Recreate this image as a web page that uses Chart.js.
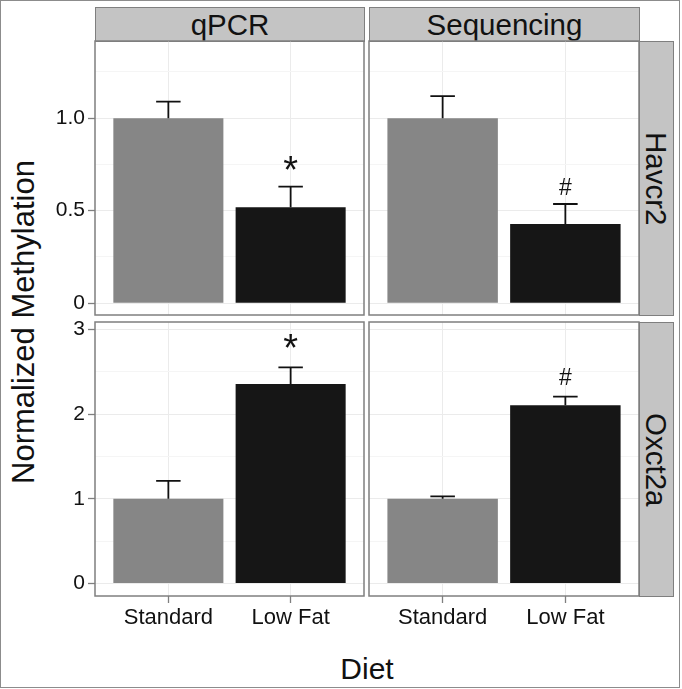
<!DOCTYPE html>
<html>
<head>
<meta charset="utf-8">
<script src="https://cdn.jsdelivr.net/npm/chart.js@4/dist/chart.umd.min.js"></script>
<style>
html, body { margin: 0; padding: 0; background: #ffffff; }
#wrap { position: relative; width: 682px; height: 689px; overflow: hidden; font-family: "Liberation Sans", Arial, sans-serif; color: #111; background: #fff; }
.frame { position: absolute; left: 0; top: 0; width: 680px; height: 688px; box-sizing: border-box; border: 1px solid #8c8c8c; }
canvas { position: absolute; }
.strip { position: absolute; box-sizing: border-box; background: #c4c4c4; border: 1px solid #7f7f7f; display: flex; align-items: center; justify-content: center; font-size: 29.5px; white-space: nowrap; line-height: 1; }
.strip span { display: block; white-space: nowrap; }
.vtext span { transform: rotate(90deg); }
.title { position: absolute; font-size: 30px; white-space: nowrap; line-height: 1; }
</style>
</head>
<body>
<div id="wrap">
  <div class="frame"></div>
</div>
<script>
// ---------------- data ----------------
const categories = ['Standard', 'Low Fat'];
const methods = ['qPCR', 'Sequencing'];
const genes = ['Havcr2', 'Oxct2a'];

const qpcrHavcr2 = [1.00, 0.518];
const qpcrHavcr2Err = [0.089, 0.112];
const seqHavcr2 = [1.00, 0.428];
const seqHavcr2Err = [0.119, 0.108];
const qpcrOxct2a = [1.00, 2.356];
const qpcrOxct2aErr = [0.213, 0.195];
const seqOxct2a = [1.00, 2.104];
const seqOxct2aErr = [0.028, 0.102];

const qpcrMarks = ['', '*'];
const seqMarks = ['', '#'];
const qpcrHavcr2MarkY = [null, 0.755];
const seqHavcr2MarkY = [null, 0.632];
const qpcrOxct2aMarkY = [null, 2.856];
const seqOxct2aMarkY = [null, 2.448];

const havcr2Ticks = [0, 0.5, 1.0];
const havcr2TickLabels = ['0', '0.5', '1.0'];
const havcr2Range = [-0.064, 1.417];
const oxct2aTicks = [0, 1, 2, 3];
const oxct2aTickLabels = ['0', '1', '2', '3'];
const oxct2aRange = [-0.146, 3.086];

const xTitle = 'Diet';
const yTitle = 'Normalized Methylation';

// ---------------- styles / layout ----------------
const FONT = "'Liberation Sans', Arial, sans-serif";
const barColors = ['#868686', '#161616'];
const colX = [[95, 364], [369, 639]];
const rowY = [[41, 315], [322, 596]];
const markFont = { '*': 38, '#': 23 };

Chart.defaults.font.family = FONT;

const wrap = document.getElementById('wrap');

function addDiv(cls, text, css) {
  const d = document.createElement('div');
  d.className = cls;
  const s = document.createElement('span');
  s.textContent = text;
  d.appendChild(s);
  Object.assign(d.style, css);
  wrap.appendChild(d);
  return d;
}

// strips
addDiv('strip', methods[0], { left: '95px', top: '7px', width: '270px', height: '35px' });
addDiv('strip', methods[1], { left: '369px', top: '7px', width: '271px', height: '35px' });
addDiv('strip vtext', genes[0], { left: '639px', top: '41px', width: '35px', height: '275px' });
addDiv('strip vtext', genes[1], { left: '639px', top: '322px', width: '35px', height: '275px' });

// axis titles
addDiv('title', yTitle, { left: '22.5px', top: '321.5px', fontSize: '31px', transform: 'translate(-50%,-50%) rotate(-90deg)' });
addDiv('title', xTitle, { left: '367px', top: '669px', transform: 'translate(-50%,-50%)' });

const panels = [
  { row: 0, col: 0, values: qpcrHavcr2, err: qpcrHavcr2Err, marks: qpcrMarks, markY: qpcrHavcr2MarkY },
  { row: 0, col: 1, values: seqHavcr2, err: seqHavcr2Err, marks: seqMarks, markY: seqHavcr2MarkY },
  { row: 1, col: 0, values: qpcrOxct2a, err: qpcrOxct2aErr, marks: qpcrMarks, markY: qpcrOxct2aMarkY },
  { row: 1, col: 1, values: seqOxct2a, err: seqOxct2aErr, marks: seqMarks, markY: seqOxct2aMarkY }
];

function near(a, b) { return Math.abs(a - b) < 1e-9; }

function makePanel(p, idx) {
  const [x0, x1] = colX[p.col];
  const [y0, y1] = rowY[p.row];
  const L = p.col === 0 ? 55 : 0;
  const B = p.row === 1 ? 50 : 0;
  const M = 4;
  const W = x1 - x0 + L + 2 * M;
  const H = y1 - y0 + B + 2 * M;
  const cv = document.createElement('canvas');
  cv.width = W; cv.height = H;
  cv.style.left = (x0 - L - M) + 'px';
  cv.style.top = (y0 - M) + 'px';
  cv.style.width = W + 'px';
  cv.style.height = H + 'px';
  wrap.appendChild(cv);

  const range = p.row === 0 ? havcr2Range : oxct2aRange;
  const majors = p.row === 0 ? havcr2Ticks : oxct2aTicks;
  const majorLabels = p.row === 0 ? havcr2TickLabels : oxct2aTickLabels;
  const step = majors[1] - majors[0];
  const all = [];
  majors.forEach(v => { all.push(v); });
  for (let i = -1; i < majors.length; i++) {
    const m = (i < 0 ? majors[0] - step : majors[i]) + step / 2;
    if (m > range[0] && m < range[1]) all.push(m);
  }
  all.sort((a, b) => a - b);
  const isMajor = v => majors.some(m => near(m, v));

  const decor = {
    id: 'decor' + idx,
    afterDatasetsDraw(chart) {
      const ctx = chart.ctx;
      const xs = chart.scales.x, ys = chart.scales.y;
      ctx.save();
      ctx.strokeStyle = '#111';
      ctx.lineWidth = 1.8;
      p.values.forEach((v, i) => {
        const xc = xs.getPixelForValue(i + 1);
        const xl = xs.getPixelForValue(i + 1 - 0.1);
        const xr = xs.getPixelForValue(i + 1 + 0.1);
        const yb = ys.getPixelForValue(v);
        const yt = ys.getPixelForValue(v + p.err[i]);
        ctx.beginPath();
        ctx.moveTo(xc, yb); ctx.lineTo(xc, yt);
        ctx.moveTo(xl, yt); ctx.lineTo(xr, yt);
        ctx.stroke();
      });
      ctx.fillStyle = '#111';
      ctx.textAlign = 'center';
      ctx.textBaseline = 'alphabetic';
      p.marks.forEach((m, i) => {
        if (!m || p.markY[i] == null) return;
        ctx.font = markFont[m] + 'px ' + FONT;
        const mt = ctx.measureText(m);
        const yc = ys.getPixelForValue(p.markY[i]);
        const yb = yc + (mt.actualBoundingBoxAscent - mt.actualBoundingBoxDescent) / 2;
        ctx.fillText(m, xs.getPixelForValue(i + 1), yb);
      });
      ctx.restore();
    },
    afterDraw(chart) {
      const a = chart.chartArea;
      const ctx = chart.ctx;
      ctx.save();
      ctx.strokeStyle = '#7f7f7f';
      ctx.lineWidth = 1.5;
      ctx.strokeRect(a.left, a.top, a.right - a.left, a.bottom - a.top);
      ctx.restore();
    }
  };

  new Chart(cv, {
    type: 'bar',
    data: {
      datasets: [{
        data: p.values.map((v, i) => ({ x: i + 1, y: v })),
        backgroundColor: barColors,
        borderWidth: 0,
        categoryPercentage: 1,
        barPercentage: 0.9
      }]
    },
    options: {
      responsive: false,
      animation: false,
      devicePixelRatio: 1,
      layout: { padding: M, autoPadding: false },
      plugins: { legend: { display: false }, tooltip: { enabled: false }, title: { display: false } },
      scales: {
        x: {
          type: 'linear', min: 0.4, max: 2.6, offset: false, bounds: 'data',
          afterBuildTicks: s => { s.ticks = categories.map((c, i) => ({ value: i + 1 })); },
          afterFit: s => { s.height = B; s.paddingLeft = 0; s.paddingRight = 0; },
          ticks: {
            display: p.row === 1,
            callback: v => categories[Math.round(v) - 1] || '',
            font: { family: FONT, size: 22 },
            color: '#111', padding: 2, autoSkip: false, maxRotation: 0, minRotation: 0
          },
          grid: { offset: false, color: '#ebebeb', lineWidth: 1, drawTicks: p.row === 1, tickLength: 7, tickColor: '#7f7f7f', tickWidth: 1.3 },
          border: { display: false }
        },
        y: {
          type: 'linear', min: range[0], max: range[1], bounds: 'data',
          afterBuildTicks: s => { s.ticks = all.map(v => ({ value: v })); },
          afterFit: s => { s.width = L; s.paddingTop = 0; s.paddingBottom = 0; },
          ticks: {
            display: p.col === 0,
            callback: v => { const k = majors.findIndex(m => near(m, v)); return k >= 0 ? majorLabels[k] : ''; },
            font: { family: FONT, size: 21 },
            color: '#111', padding: 3, autoSkip: false
          },
          grid: {
            color: c => (c.tick && isMajor(c.tick.value)) ? '#ebebeb' : '#f5f5f5',
            lineWidth: 1,
            drawTicks: p.col === 0, tickLength: 7,
            tickColor: c => (c.tick && isMajor(c.tick.value)) ? '#7f7f7f' : 'rgba(0,0,0,0)',
            tickWidth: 1.3
          },
          border: { display: false }
        }
      }
    },
    plugins: [decor]
  });
}

panels.forEach(makePanel);
</script>
</body>
</html>
